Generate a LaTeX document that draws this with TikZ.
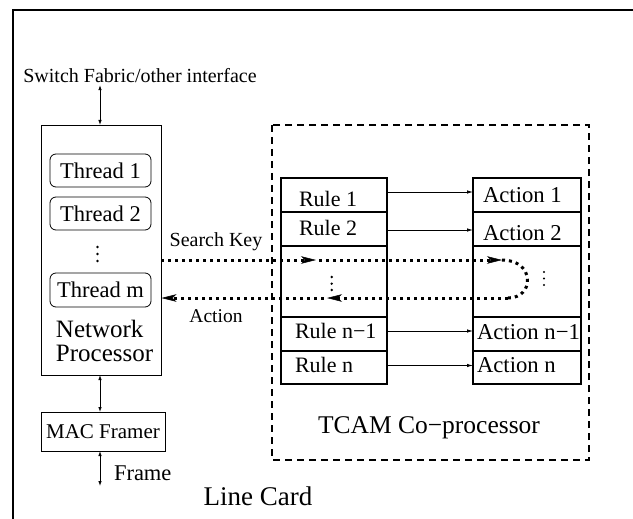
\documentclass[tikz,border=0pt]{standalone}
\usepackage{fontspec}
\setmainfont{Liberation Serif}
\usetikzlibrary{arrows.meta}
\newcommand{\fs}[1]{\fontsize{#1}{#1}\selectfont}
\begin{document}
\begin{tikzpicture}[x=1pt,y=-1pt,
  every node/.style={inner sep=0pt,outer sep=0pt},
  box/.style={draw,line width=0.9pt},
  rowbox/.style={draw,line width=1.4pt,minimum width=106pt},
  thr/.style={draw,line width=0.8pt,rounded corners=6pt,minimum width=101pt,minimum height=33pt,font=\fs{22.5}},
  dbl/.style={line width=0.8pt,{Latex[length=5pt,width=3.5pt]}-{Latex[length=5pt,width=3.5pt]}},
  harrow/.style={line width=0.8pt,-{Latex[length=6pt,width=3.5pt]}},
  dotline/.style={line width=3pt,dash pattern=on 3pt off 4pt},
  dtip/.style={line width=0.5pt,-{Stealth[length=15pt,width=7.5pt,inset=4pt]}},
  dot/.style={circle,fill,minimum size=2.6pt},
  lbl/.style={font=\fs{22}}
]
\useasboundingbox (0,0) rectangle (633,519);
\clip (0,0) rectangle (633,519);
% outer frame (Line Card)
\draw[line width=1.1pt] (13,540) -- (13,10) -- (660,10);
\node[font=\fs{20}] (sw) at (140,76) {Switch Fabric/other interface};
% Network processor
\node[box,minimum width=120pt,minimum height=250pt] (np) at (101,250) {};
\node[thr] (t1) at (100.5,170.5) {Thread 1};
\node[thr] (t2) at (100.5,213.5) {Thread 2};
\node[dot] (nd1) at (97.5,247) {};
\node[dot] (nd2) at (97.5,254) {};
\node[dot] (nd3) at (97.5,261) {};
\node[thr,minimum height=34pt] (tm) at (100.5,290) {Thread m};
\node[font=\fs{25},align=left,anchor=west] (npl) at (56,341) {Network\\[-1pt]Processor};
\node[box,minimum width=124pt,minimum height=39pt,font=\fs{21}] (mac) at (103,431.5) {MAC Framer};
\coordinate (fe) at (100,486);
\node[font=\fs{22.5},anchor=west] (frame) at (114,473) {Frame};
\node[font=\fs{27}] (lc) at (258,496) {Line Card};
\draw[dbl] (sw.south -| 100,0) ++(0,2) -- (np.north -| 100,0);
\draw[dbl] (np.south -| 100,0) -- (mac.north -| 100,0);
\draw[dbl] (mac.south -| 100,0) -- (fe);
% TCAM
\draw[line width=1.3pt,dash pattern=on 7pt off 5pt] (272,125) rectangle (589,460);
\node[font=\fs{25.5}] (tcam) at (429,428) {TCAM Co−processor};
% rule rows
\node[rowbox,minimum height=34pt] (r1) at (334,195) {};
\node[rowbox,minimum height=34pt] (r2) at (334,229) {};
\node[rowbox,minimum height=71pt] (rg) at (334,281.5) {};
\node[rowbox,minimum height=34pt] (rn1) at (334,334) {};
\node[rowbox,minimum height=33pt] (rn) at (334,367.5) {};
\node[rowbox,minimum width=108pt,minimum height=34pt] (a1) at (527,195) {};
\node[rowbox,minimum width=108pt,minimum height=34pt] (a2) at (527,229) {};
\node[rowbox,minimum width=108pt,minimum height=71pt] (ag) at (527,281.5) {};
\node[rowbox,minimum width=108pt,minimum height=34pt] (an1) at (527,334) {};
\node[rowbox,minimum width=108pt,minimum height=33pt] (an) at (527,367.5) {};
\node[lbl,anchor=west] at (299,199) {Rule 1};
\node[lbl,anchor=west] at (299,228) {Rule 2};
\node[lbl,anchor=west] at (295,331) {Rule n−1};
\node[lbl,anchor=west] at (295,365) {Rule n};
\node[lbl,font=\fs{22.7},anchor=west] at (483,195) {Action 1};
\node[lbl,font=\fs{22.7},anchor=west] at (483,233) {Action 2};
\node[lbl,font=\fs{22.7},anchor=west] at (477,332) {Action n−1};
\node[lbl,font=\fs{22.7},anchor=west] at (477,365) {Action n};
\node[dot] (rd1) at (331.7,277) {};
\node[dot] (rd2) at (331.7,283.7) {};
\node[dot] (rd3) at (331.7,290) {};
\node[dot,minimum size=2.2pt] (ad1) at (544,272) {};
\node[dot,minimum size=2.2pt] (ad2) at (544,278.5) {};
\node[dot,minimum size=2.2pt] (ad3) at (544,285) {};
\draw[harrow] ([yshift=3pt]r1.east) -- ([yshift=3pt]a1.west);
\draw[harrow] ([yshift=-1pt]r2.east) -- ([yshift=-1pt]a2.west);
\draw[harrow] ([yshift=3pt]rn1.east) -- ([yshift=3pt]an1.west);
\draw[harrow] ([yshift=2pt]rn.east) -- ([yshift=2pt]an.west);
% search key / action loop
\coordinate (s1) at (316,260);
\coordinate (s2) at (502,260);
\coordinate (s3) at (508,298);
\coordinate (s4) at (327,298);
\draw[dotline] (np.east |- 0,260) -- ([xshift=-8pt]s1);
\draw[dtip] ([xshift=-10pt]s1) -- (s1);
\draw[dotline] ([xshift=3pt]s1) -- ([xshift=-8pt]s2);
\draw[dtip] ([xshift=-10pt]s2) -- (s2);
\draw[dotline] (s2) .. controls (535,260) and (535,298) .. (s3);
\draw[dotline] (s3) -- ([xshift=8pt]s4);
\draw[dtip] ([xshift=10pt]s4) -- (s4);
\draw[dotline] ([xshift=-3pt]s4) -- ([xshift=8pt]np.east |- 0,298);
\draw[dtip] ([xshift=10pt]np.east |- 0,298) -- ([xshift=0.5pt]np.east |- 0,298);
\node[font=\fs{20}] (skl) at (216,242) {Search Key};
\node[font=\fs{19.5}] (acl) at (216,316) {Action};
\end{tikzpicture}
\end{document}
